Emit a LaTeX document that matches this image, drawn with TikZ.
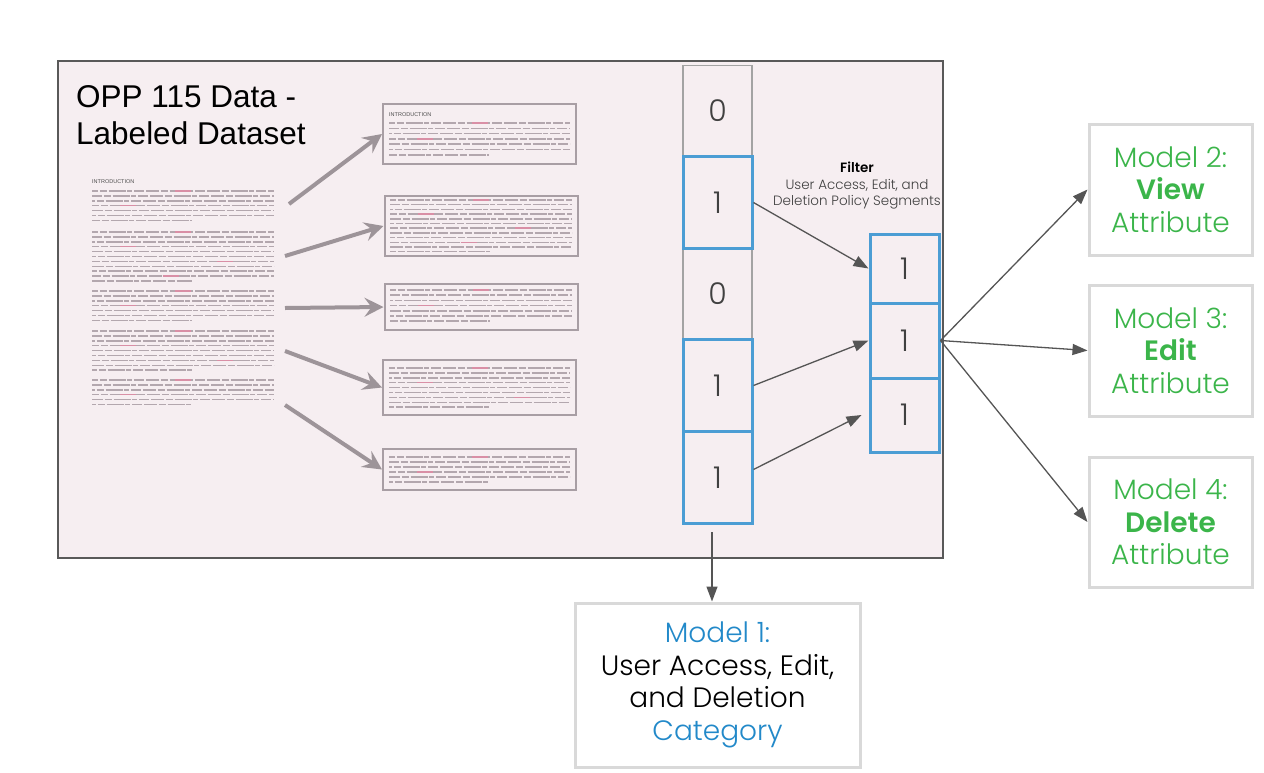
\documentclass[tikz,border=0pt]{standalone}
\usepackage{fontspec}
\setmainfont{Liberation Sans}
\newfontfamily\popl{Poppins Light}[BoldFont={Poppins SemiBold}]
\usetikzlibrary{arrows.meta}

\definecolor{framepink}{HTML}{F6EEF1}
\definecolor{framegray}{HTML}{595959}
\definecolor{docgray}{HTML}{A89EA4}
\definecolor{txtgray}{HTML}{B3A7AE}
\definecolor{txtpink}{HTML}{D98FA6}
\definecolor{arrgray}{HTML}{9D9499}
\definecolor{darkarr}{HTML}{555555}
\definecolor{cellblue}{HTML}{4B9DD4}
\definecolor{cellgray}{HTML}{A3A3A3}
\definecolor{modelgreen}{HTML}{3BB54A}
\definecolor{modelblue}{HTML}{2289C9}
\definecolor{boxgray}{HTML}{D9D9D9}

% lines of a page: x, y of first line, width, number of lines, gap
\newcommand{\doctext}[5]{%
  \foreach \i in {1,...,#4}{%
    \pgfmathsetmacro{\len}{(\i==#4 ? 0.55 : 1)*#3}
    \pgfmathtruncatemacro{\r}{mod(\i,3)}
    \pgfmathsetmacro{\off}{mod(\i*53,97)/97*(#3-30)}
    \pgfmathsetmacro{\shift}{mod(\i*7,11)}
    \draw [txtline,dash phase=\shift pt] (#1,{#2+(\i-1)*#5}) -- ++(\len,0);
    \ifnum\r=1 \ifnum\i<#4
      \draw [pinkline] ({#1+\off},{#2+(\i-1)*#5}) -- ++(16,0);
    \fi\fi
  }%
}

\begin{document}
\begin{tikzpicture}[x=1pt,y=-1pt,
  txtline/.style={txtgray,line width=1.5pt,dash pattern=on 13pt off 1.8pt on 7pt off 1.8pt on 17pt off 1.8pt on 5pt off 1.8pt on 10pt off 1.8pt},
  pinkline/.style={txtpink,line width=1.5pt},
  docbox/.style={draw=docgray,line width=2pt,minimum width=193pt,inner sep=0pt},
  heading/.style={font=\fontsize{5.5}{6}\selectfont,text=black!70,inner sep=0pt,anchor=west},
  bigarr/.style={arrgray,line width=4pt,-{Stealth[length=19pt,width=19pt,inset=7pt]}},
  darr/.style={darkarr,line width=1.3pt,-{Triangle[length=15pt,width=11pt]}},
  cell/.style={draw=cellgray,line width=1.2pt,minimum width=69pt,minimum height=91.6pt,inner sep=0pt,
    text=black!75,font=\popl\fontsize{30}{30}\selectfont},
  hit/.style={cell,draw=cellblue,line width=3pt},
  modelbox/.style={draw=boxgray,line width=3pt,fill=white,align=center,inner sep=0pt,
    font=\popl\fontsize{28}{32.5}\selectfont}]

\useasboundingbox (0,0) rectangle (1264,772);
\fill [white] (0,0) rectangle (1264,772);

\node (frame) at (500.5,309.5) [draw=framegray,line width=1.5pt,fill=framepink,
  minimum width=885pt,minimum height=497pt,inner sep=0pt] {};
\node (title) at (76,85) [anchor=north west,inner sep=0pt,align=left,
  font=\fontsize{31.5}{37}\selectfont] {OPP 115 Data -\\Labeled Dataset};

% the full page
\node (page) at (183.5,294) [minimum width=185pt,minimum height=232pt] {};
\node (pagehead) at (92,182) [heading] {INTRODUCTION};
\doctext{92}{191}{182}{7}{4.9}
\doctext{92}{232}{182}{11}{4.9}
\doctext{92}{291}{182}{7}{4.9}
\doctext{92}{331}{182}{9}{4.9}
\doctext{92}{380}{182}{6}{4.9}

% the segments
\node (seg1) at (479.5,134) [docbox,minimum height=60pt] {};
\node (seg2) at (481,226) [docbox,minimum height=60pt] {};
\node (seg3) at (481,307) [docbox,minimum height=46pt] {};
\node (seg4) at (479.5,387.5) [docbox,minimum height=55pt] {};
\node (seg5) at (479.5,469.5) [docbox,minimum height=41pt] {};
\node (seghead) at (389,114.5) [heading] {INTRODUCTION};
\doctext{389}{123}{181}{7}{5.3}
\doctext{390}{200}{182}{12}{4.7}
\doctext{390}{290}{182}{7}{5.2}
\doctext{389}{368}{181}{9}{4.9}
\doctext{389}{457}{181}{6}{5}

\coordinate (p1) at (289,204);
\coordinate (p2) at (285,256);
\coordinate (p3) at (285,308);
\coordinate (p4) at (285,351);
\coordinate (p5) at (285,405);
\draw [bigarr] (p1) -- (seg1.west);
\draw [bigarr] (p2) -- (seg2.west);
\draw [bigarr] (p3) -- (seg3.west);
\draw [bigarr] (p4) -- (seg4.west);
\draw [bigarr] (p5) -- (seg5.west);

% label column
\node (c1) at (717.5,111) [cell] {0};
\node (c3) at (717.5,294) [cell] {0};
\node (c2) at (717.5,202.5) [hit] {1};
\node (c4) at (717.5,385.5) [hit] {1};
\node (c5) at (717.5,477.5) [hit] {1};

\node (filter) at (857,186) [align=center,text=black!75,inner sep=0pt,
  font=\popl\fontsize{13.5}{16.5}\selectfont] {\textbf{\color{black}Filter}\\User Access, Edit, and\\Deletion Policy Segments};

\node (f1) at (904.5,268.5) [hit,minimum height=69pt] {1};
\node (f2) at (904.5,340.5) [hit,minimum height=75pt] {1};
\node (f3) at (904.5,415) [hit,minimum height=74pt] {1};

\draw [darr] (c2.east) -- (f1.west);
\draw [darr] (c4.east) -- (f2.west);
\draw [darr] ([yshift=8pt]c5.east) -- ([xshift=-7pt]f3.west);

% models
\node (m1) at (717.5,685) [modelbox,minimum width=285pt,minimum height=164pt]
  {\color{modelblue}Model 1:\\User Access, Edit,\\and Deletion\\\color{modelblue}Category};
\node (m2) at (1170.5,189.5) [modelbox,minimum width=163pt,minimum height=131pt,text=modelgreen]
  {Model 2:\\\textbf{View}\\Attribute};
\node (m3) at (1170.5,350.5) [modelbox,minimum width=163pt,minimum height=131pt,text=modelgreen]
  {Model 3:\\\textbf{Edit}\\Attribute};
\node (m4) at (1170.5,522) [modelbox,minimum width=163pt,minimum height=130pt,text=modelgreen]
  {Model 4:\\\textbf{Delete}\\Attribute};

\draw [darr] (f2.east) -- (m2.west);
\draw [darr] (f2.east) -- (m3.west);
\draw [darr] (f2.east) -- (m4.west);

\coordinate (drop) at (712,532);
\draw [darr] (drop) -- (drop |- m1.north);
\end{tikzpicture}
\end{document}
